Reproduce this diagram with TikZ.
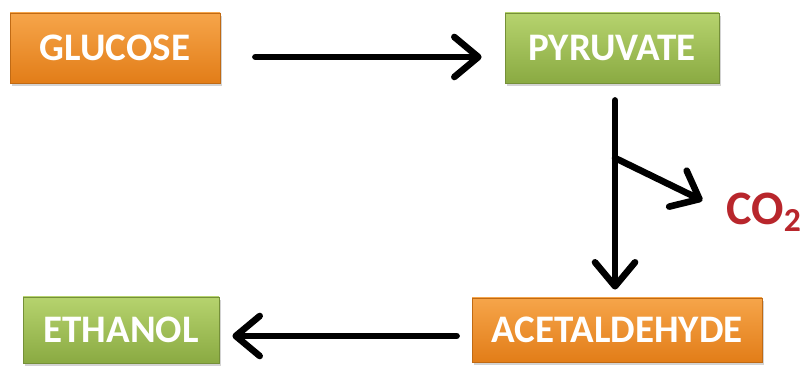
\documentclass[tikz,border=0pt]{standalone}
\usepackage{fontspec}
\setmainfont{Carlito}
\usetikzlibrary{arrows.meta,shadows}

\definecolor{orangetop}{HTML}{F6A54A}
\definecolor{orangebot}{HTML}{E27D18}
\definecolor{greentop}{HTML}{B6D36E}
\definecolor{greenbot}{HTML}{8AAA42}
\definecolor{co2red}{HTML}{B8262C}

\tikzset{
  molecule/.style={draw=#1bot!85!black, line width=0.4pt, top color=#1top, bottom color=#1bot,
    text=white, font=\bfseries\fontsize{19.5}{21}\selectfont, minimum height=35pt, inner sep=0pt,
    drop shadow={shadow xshift=1pt, shadow yshift=-1.5pt, opacity=0.35}},
  reaction/.style={line width=3.3pt, line cap=round, -{Straight Barb[length=12pt,width=20pt,round]}}
}

\begin{document}
\begin{tikzpicture}[x=0.5pt,y=-0.5pt]
  \useasboundingbox (0,0) rectangle (806,367);

  \node[molecule=orange, minimum width=105pt] (glucose) at (115,48) {GLUCOSE};
  \node[molecule=green, minimum width=107pt] (pyruvate) at (612,48) {PYRUVATE};
  \node[molecule=orange, minimum width=145pt, minimum height=32pt] (acetaldehyde) at (617,330) {ACETALDEHYDE};
  \node[molecule=green, minimum width=98pt, minimum height=33pt] (ethanol) at (121,330) {ETHANOL};
  \node[text=co2red, inner sep=0pt, font=\bfseries\fontsize{24}{26}\selectfont] (co2) at (764,212) {CO\textsubscript{2}};

  % glucose -> pyruvate
  \draw[reaction, shorten <=17.5pt, shorten >=11.5pt] ([yshift=-4.5pt]glucose.east) -- ([yshift=-4.5pt]pyruvate.west);
  % pyruvate -> acetaldehyde, losing co2
  \draw[reaction, shorten <=8.5pt, shorten >=4pt] ([xshift=1.5pt]pyruvate.south) -- ([xshift=-1pt]acetaldehyde.north);
  \coordinate (split) at (615,158);
  \draw[reaction, shorten >=13pt] (split) -- (co2.west);
  % acetaldehyde -> ethanol
  \draw[reaction, shorten <=7.5pt, shorten >=6.5pt] ([yshift=-3pt]acetaldehyde.west) -- ([yshift=-3pt]ethanol.east);
\end{tikzpicture}
\end{document}
